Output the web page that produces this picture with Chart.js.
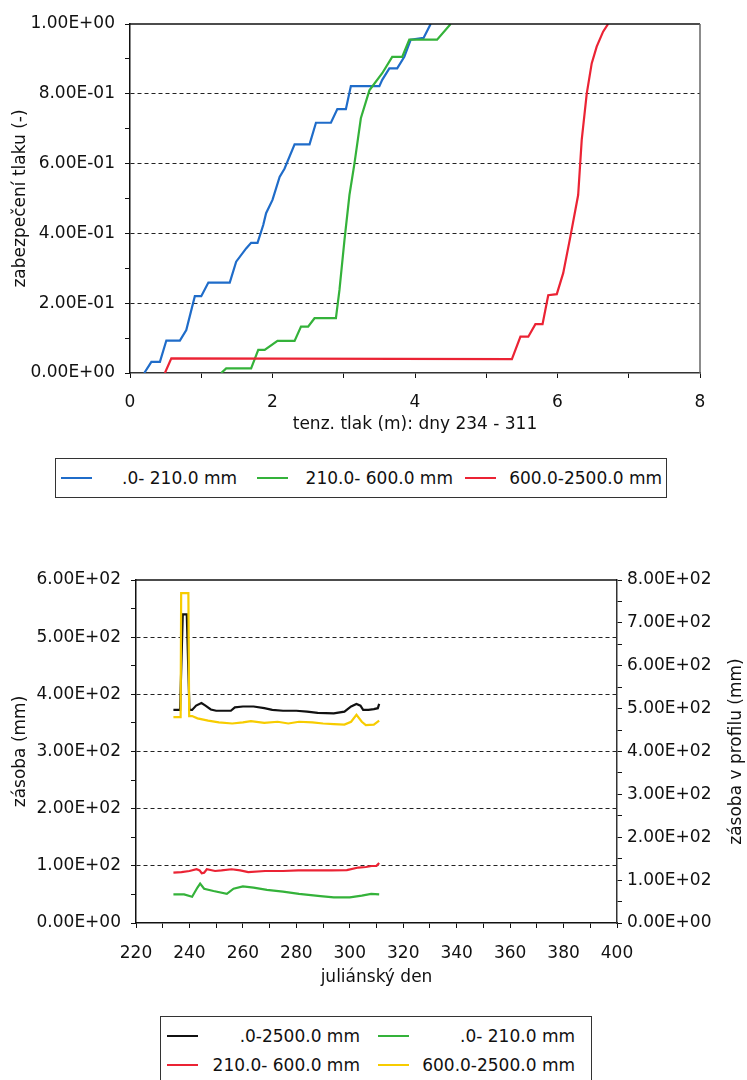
<!DOCTYPE html>
<html><head><meta charset="utf-8">
<script src="https://cdn.jsdelivr.net/npm/chart.js@4.4.0/dist/chart.umd.min.js"></script>
<style>
html,body{margin:0;padding:0;background:#fff;}
body{width:747px;height:1080px;overflow:hidden;position:relative;font-family:"DejaVu Sans",sans-serif;color:#111;}
canvas{position:absolute;left:0;}
.legend{position:absolute;box-sizing:border-box;border:1.5px solid #333;background:#fff;font-size:17px;}
#leg1{left:55px;top:458px;width:612px;height:40px;display:flex;align-items:center;}
#leg2{left:160px;top:1016px;width:432px;height:90px;display:grid;grid-template-columns:193px 197px;column-gap:18px;grid-auto-rows:29px;padding:4px 0 0 6px;}
.item{display:flex;align-items:center;}
.sw{width:31px;height:0;border-top:2px solid;flex:none;}
.lbl{flex:1;text-align:right;white-space:nowrap;}
</style></head>
<body>
<canvas id="c1" width="747" height="445" style="top:0"></canvas>
<div id="leg1" class="legend"></div>
<canvas id="c2" width="747" height="460" style="top:540px"></canvas>
<div id="leg2" class="legend"></div>
<script>
// ---------- top chart data: tension (m) vs. cumulative probability ----------
const topSeries = ['.0- 210.0 mm', '210.0- 600.0 mm', '600.0-2500.0 mm'];
const topColors = ['#1f6cc9', '#34b23a', '#eb2334'];
const blueX = [0.20,0.30,0.42,0.51,0.70,0.79,0.91,1.00,1.10,1.40,1.49,1.63,1.70,1.79,1.87,1.91,2.00,2.10,2.17,2.31,2.52,2.61,2.82,2.91,3.03,3.10,3.50,3.54,3.64,3.75,3.85,3.94,4.12,4.22];
const blueY = [0,0.032,0.032,0.093,0.093,0.123,0.22,0.22,0.259,0.259,0.319,0.357,0.373,0.373,0.424,0.458,0.496,0.562,0.586,0.655,0.655,0.717,0.717,0.756,0.756,0.822,0.822,0.84,0.873,0.873,0.906,0.955,0.96,1.0];
const greenX = [1.28,1.35,1.70,1.80,1.89,2.07,2.31,2.40,2.50,2.59,2.89,2.94,3.01,3.08,3.15,3.24,3.36,3.54,3.68,3.82,3.92,4.31,4.50];
const greenY = [0,0.013,0.013,0.066,0.066,0.092,0.092,0.133,0.133,0.157,0.157,0.238,0.381,0.51,0.60,0.73,0.81,0.859,0.906,0.906,0.955,0.955,1.0];
const redX = [0.49,0.58,5.36,5.48,5.59,5.69,5.79,5.87,5.99,6.08,6.18,6.29,6.34,6.41,6.48,6.55,6.64,6.71];
const redY = [0,0.042,0.040,0.104,0.104,0.14,0.14,0.223,0.226,0.286,0.39,0.51,0.668,0.80,0.887,0.935,0.978,1.0];
const topXLabels = [0,2,4,6,8];
const topYLabels = [0,0.2,0.4,0.6,0.8,1.0];
const topXTitle = 'tenz. tlak (m): dny 234 - 311';
const topYTitle = 'zabezpečení tlaku (-)';

// ---------- bottom chart data: storage vs. julian day ----------
const botSeries = ['.0-2500.0 mm', '.0- 210.0 mm', '210.0- 600.0 mm', '600.0-2500.0 mm'];
const botColors = ['#111111', '#34b23a', '#eb2334', '#f7cc00'];
const totalDay = [234,236.5,237.5,239,240,241,242.5,244.5,246,248,250,255.5,257,260,264,268,271,275,280,284,288,294,298,300.5,302.5,304,305,307,309,310.5,311];
const totalVal = [497,497,720,720,497,497,507,513,507,498,495,495,503,505,505,501,497,495,495,493,490,489,493,505,511,507,497,497,499,501,511];
const l1Day = [234,238,241,243,244,245.5,249,254,256.5,260,264,269,275,281,289,294,300,304.5,308,311];
const l1Val = [50,50,46,62,69,60,56,51,60,64,62,58,55,51,47,45,45,48,51,50];
const l2Day = [234,237,240,242.7,243.8,244.6,245.5,246.5,249.6,252,255.8,259,262,268.3,275,280.7,287,293.2,298.9,303.2,306,308.2,310,311];
const l2Val = [88,89,91,94,92,87,88,94,91,92,94,92,89,91,91,92,92,92,92.5,97,98,99.7,100,105];
const l3Day = [234,236.7,236.9,239.6,239.9,241,243,247,251,256,260,263,268,273,277,281,286,290,294,298,300.5,302.5,304.5,306,309,311];
const l3Val = [360,360,577,577,362,362,358,354,351,349,351,353,350,352,349,352,351,349,348,347,352,364,352,346,347,354];
const botXLabels = [220,240,260,280,300,320,340,360,380,400];
const botYLabels = [0,100,200,300,400,500,600];
const botY1Labels = [0,100,200,300,400,500,600,700,800];
const botXTitle = 'juliánský den';
const botYTitle = 'zásoba (mm)';
const botY1Title = 'zásoba v profilu (mm)';

// ---------- helpers ----------
const FONT = '"DejaVu Sans", sans-serif';
const tickFont = {family: FONT, size: 17};
const INK = '#111';
function fmtE(v){
  if (Math.abs(v) < 1e-9) return '0.00E+00';
  const parts = v.toExponential(2).split('e');
  const sign = parts[1][0] === '-' ? '-' : '+';
  const d = parts[1].replace(/[+-]/, '').padStart(2, '0');
  return parts[0] + 'E' + sign + d;
}
function near(list, v){ return list.some(t => Math.abs(t - v) < 1e-6); }
function pts(xs, ys){ return xs.map((x, i) => ({x: x, y: ys[i]})); }

const frame = {
  id: 'frame',
  afterDatasetsDraw(chart, args, opts){
    const ctx = chart.ctx, a = chart.chartArea;
    ctx.save();
    ctx.lineWidth = 1.5;
    ctx.strokeStyle = INK;
    ctx.beginPath(); ctx.moveTo(a.left, a.top); ctx.lineTo(a.right, a.top); ctx.stroke();
    if (opts && opts.rightColor) {
      ctx.strokeStyle = opts.rightColor;
      ctx.beginPath(); ctx.moveTo(a.right, a.top); ctx.lineTo(a.right, a.bottom); ctx.stroke();
    }
    ctx.restore();
  }
};
const rightTitle = {
  id: 'rightTitle',
  afterDraw(chart, args, opts){
    if (!opts || !opts.text) return;
    const s = chart.scales.y1, a = chart.chartArea, ctx = chart.ctx;
    ctx.save();
    ctx.font = '17px ' + FONT;
    ctx.fillStyle = INK;
    ctx.textAlign = 'center';
    ctx.textBaseline = 'middle';
    ctx.translate(s.right - 10, (a.top + a.bottom) / 2);
    ctx.rotate(-Math.PI / 2);
    ctx.fillText(opts.text, 0, 0);
    ctx.restore();
  }
};

function buildLegend(el, chart, widths, margins){
  chart.data.datasets.forEach((ds, i) => {
    const it = document.createElement('div');
    it.className = 'item';
    if (widths) { it.style.width = widths[i] + 'px'; it.style.marginLeft = margins[i] + 'px'; }
    const sw = document.createElement('span');
    sw.className = 'sw';
    sw.style.borderTopColor = ds.borderColor;
    const lb = document.createElement('span');
    lb.className = 'lbl';
    lb.textContent = ds.label;
    it.appendChild(sw); it.appendChild(lb);
    el.appendChild(it);
  });
}

// ---------- top chart ----------
const c1 = new Chart(document.getElementById('c1'), {
  type: 'line',
  data: {datasets: [
    {label: topSeries[0], data: pts(blueX, blueY), borderColor: topColors[0], order: 2},
    {label: topSeries[1], data: pts(greenX, greenY), borderColor: topColors[1], order: 1},
    {label: topSeries[2], data: pts(redX, redY), borderColor: topColors[2], order: 0}
  ]},
  options: {
    responsive: false, animation: false, devicePixelRatio: 1,
    layout: {padding: {top: 24, right: 47, left: 0, bottom: 0}},
    elements: {point: {radius: 0}, line: {borderWidth: 2.2, tension: 0, fill: false}},
    plugins: {legend: {display: false}, tooltip: {enabled: false}, frame: {rightColor: '#666'}},
    scales: {
      x: {type: 'linear', min: 0, max: 8,
        afterFit: s => { s.height = 72; },
        ticks: {stepSize: 1, autoSkip: false, maxRotation: 0, padding: 14, color: INK, font: tickFont,
          callback: v => near(topXLabels, v) ? String(v) : ''},
        grid: {color: 'transparent', tickColor: INK, tickLength: 5},
        border: {color: '#333', width: 1.5},
        title: {display: true, text: topXTitle, color: INK, font: tickFont, padding: {top: 0, bottom: 10}}},
      y: {type: 'linear', min: 0, max: 1,
        afterFit: s => { s.width = 130; },
        ticks: {stepSize: 0.1, autoSkip: false, padding: 10, color: INK, font: tickFont,
          callback: v => near(topYLabels, v) ? fmtE(v) : ''},
        grid: {color: c => (near(topYLabels, c.tick.value) && c.tick.value > 0.01 && c.tick.value < 0.99) ? '#222' : 'transparent',
          tickColor: INK, tickLength: 5},
        border: {color: INK, width: 1.5, dash: [4, 3]},
        title: {display: true, text: topYTitle, color: INK, font: tickFont, padding: {top: 10, bottom: 0}}}
    }
  },
  plugins: [frame]
});
buildLegend(document.getElementById('leg1'), c1, [176, 196, 197], [5, 20, 12]);

// ---------- bottom chart ----------
const c2 = new Chart(document.getElementById('c2'), {
  type: 'line',
  data: {datasets: [
    {label: botSeries[0], data: pts(totalDay, totalVal), borderColor: botColors[0], yAxisID: 'y1', order: 1},
    {label: botSeries[1], data: pts(l1Day, l1Val), borderColor: botColors[1], yAxisID: 'y', order: 3},
    {label: botSeries[2], data: pts(l2Day, l2Val), borderColor: botColors[2], yAxisID: 'y', order: 2},
    {label: botSeries[3], data: pts(l3Day, l3Val), borderColor: botColors[3], yAxisID: 'y', order: 0}
  ]},
  options: {
    responsive: false, animation: false, devicePixelRatio: 1,
    layout: {padding: {top: 40, right: 0, left: 0, bottom: 0}},
    elements: {point: {radius: 0}, line: {borderWidth: 2.2, tension: 0, fill: false}},
    plugins: {legend: {display: false}, tooltip: {enabled: false}, frame: {}, rightTitle: {text: botY1Title}},
    scales: {
      x: {type: 'linear', min: 220, max: 400,
        afterFit: s => { s.height = 77; },
        ticks: {stepSize: 10, autoSkip: false, maxRotation: 0, padding: 15, color: INK, font: tickFont,
          callback: v => near(botXLabels, v) ? String(v) : ''},
        grid: {color: 'transparent', tickColor: INK, tickLength: 5},
        border: {color: INK, width: 1.5},
        title: {display: true, text: botXTitle, color: INK, font: tickFont, padding: {top: 0, bottom: 12}}},
      y: {type: 'linear', position: 'left', min: 0, max: 600,
        afterFit: s => { s.width = 136; },
        ticks: {stepSize: 50, autoSkip: false, padding: 10, color: INK, font: tickFont,
          callback: v => near(botYLabels, v) ? fmtE(v) : ''},
        grid: {color: c => (near(botYLabels, c.tick.value) && c.tick.value > 1 && c.tick.value < 599) ? '#222' : 'transparent',
          tickColor: INK, tickLength: 5},
        border: {color: INK, width: 1.5, dash: [4, 3]},
        title: {display: true, text: botYTitle, color: INK, font: tickFont, padding: {top: 10, bottom: 0}}},
      y1: {type: 'linear', position: 'right', min: 0, max: 800,
        afterFit: s => { s.width = 130; },
        ticks: {stepSize: 50, autoSkip: false, padding: 5, color: INK, font: tickFont,
          callback: v => near(botY1Labels, v) ? fmtE(v) : ''},
        grid: {drawOnChartArea: false, tickColor: INK, tickLength: 5},
        border: {color: '#333', width: 1.5},
        title: {display: false}}
    }
  },
  plugins: [frame, rightTitle]
});
buildLegend(document.getElementById('leg2'), c2, null, null);
</script>
</body></html>
